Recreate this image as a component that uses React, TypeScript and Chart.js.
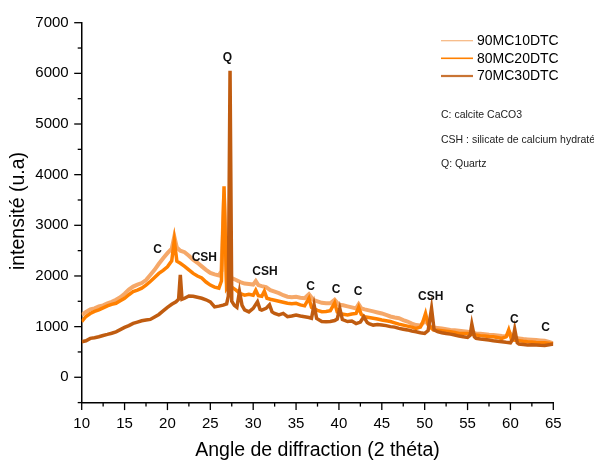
import React, { useEffect, useRef } from "react";
import { Chart, registerables } from "chart.js";

Chart.register(...registerables);

const FONT = "'Liberation Sans', Arial, Helvetica, sans-serif";

// ---------- data ----------
const seriesNames = ["90MC10DTC", "80MC20DTC", "70MC30DTC"];
const seriesColors = ["rgb(245,168,105)", "rgb(255,128,0)", "rgb(192,92,16)"];

const angles90 = [10, 10.5, 11, 11.5, 12, 12.5, 13, 13.5, 14, 14.5, 15, 15.5, 16, 16.5, 17, 17.5, 18, 18.5, 19, 19.5, 20, 20.5, 20.8, 21.1, 21.5, 22, 22.5, 23, 23.5, 24, 24.5, 25, 25.5, 26, 26.3, 26.6, 26.9, 27.2, 27.5, 28, 28.5, 29, 29.5, 30, 30.3, 30.6, 31, 31.5, 32, 32.5, 33, 33.5, 34, 34.5, 35, 35.5, 36, 36.5, 37, 37.5, 38, 38.5, 39, 39.5, 40, 40.5, 41, 41.5, 42, 42.3, 42.6, 43, 43.5, 44, 44.5, 45, 45.5, 46, 46.5, 47, 47.5, 48, 48.5, 49, 49.5, 50.1, 50.5, 51, 51.5, 52, 52.5, 53, 53.5, 54, 54.5, 55, 55.5, 56, 56.5, 57, 57.5, 58, 58.5, 59, 59.5, 59.9, 60.3, 60.7, 61, 61.5, 62, 62.5, 63, 63.5, 64, 64.5, 65];
const intensity90 = [1230, 1290, 1340, 1360, 1400, 1420, 1460, 1490, 1530, 1580, 1650, 1730, 1790, 1830, 1860, 1920, 2020, 2120, 2240, 2350, 2450, 2540, 2780, 2560, 2500, 2470, 2400, 2320, 2260, 2190, 2120, 2060, 2030, 2010, 2100, 3550, 2000, 2100, 1960, 1920, 1880, 1850, 1840, 1830, 1900, 1820, 1800, 1780, 1720, 1690, 1660, 1620, 1590, 1580, 1590, 1570, 1560, 1640, 1530, 1500, 1470, 1460, 1460, 1530, 1430, 1420, 1400, 1380, 1360, 1440, 1360, 1340, 1320, 1300, 1280, 1260, 1230, 1200, 1180, 1165, 1130, 1100, 1060, 1030, 1020, 1120, 1010, 985, 975, 965, 950, 935, 930, 920, 910, 900, 880, 866, 860, 852, 840, 833, 825, 813, 810, 880, 790, 775, 767, 755, 747, 740, 734, 728, 721, 700, 670];

const angles80 = [10, 10.5, 11, 11.5, 12, 12.5, 13, 13.5, 14, 14.5, 15, 15.5, 16, 16.5, 17, 17.5, 18, 18.5, 19, 19.5, 20, 20.5, 20.8, 21.1, 21.5, 22, 22.5, 23, 23.5, 24, 24.5, 25, 25.5, 26, 26.3, 26.6, 26.9, 27.2, 27.5, 28, 28.5, 29, 29.5, 30, 30.3, 30.6, 31, 31.3, 31.6, 32, 32.5, 33, 33.5, 34, 34.5, 35, 35.5, 36, 36.5, 36.8, 37, 37.5, 38, 38.5, 39, 39.5, 39.8, 40, 40.5, 41, 41.5, 42, 42.3, 42.6, 43, 43.5, 44, 44.5, 45, 45.5, 46, 46.5, 47, 47.5, 48, 48.5, 49, 49.5, 49.8, 50.1, 50.4, 50.7, 51, 51.5, 52, 52.5, 53, 53.5, 54, 54.5, 55, 55.5, 56, 56.5, 57, 57.5, 58, 58.5, 59, 59.5, 59.8, 60.1, 60.4, 61, 61.5, 62, 62.5, 63, 63.5, 64, 64.5, 65];
const intensity80 = [1100, 1200, 1260, 1300, 1330, 1370, 1410, 1440, 1460, 1510, 1560, 1630, 1690, 1720, 1760, 1820, 1890, 1970, 2050, 2110, 2180, 2300, 2700, 2290, 2250, 2190, 2120, 2050, 2000, 1960, 1880, 1820, 1780, 1760, 1900, 3770, 1750, 1820, 1780, 1720, 1650, 1620, 1640, 1620, 1720, 1610, 1600, 1700, 1560, 1540, 1520, 1500, 1480, 1460, 1450, 1460, 1430, 1410, 1560, 1380, 1360, 1320, 1295, 1300, 1315, 1470, 1290, 1260, 1245, 1230, 1250, 1260, 1380, 1240, 1195, 1180, 1165, 1150, 1130, 1115, 1100, 1075, 1050, 1030, 1010, 990, 965, 990, 1100, 1260, 1050, 980, 935, 928, 920, 910, 900, 885, 866, 866, 866, 850, 833, 822, 813, 805, 800, 785, 767, 800, 935, 760, 734, 721, 710, 701, 695, 688, 684, 681, 670, 655];

const angles70 = [10, 10.5, 11, 11.5, 12, 12.5, 13, 13.5, 14, 14.5, 15, 15.5, 16, 16.5, 17, 17.5, 18, 18.5, 19, 19.5, 20, 20.5, 21, 21.3, 21.5, 21.7, 22, 22.5, 23, 23.5, 24, 24.5, 25, 25.5, 26, 26.5, 26.9, 27.1, 27.3, 27.5, 27.8, 28.1, 28.4, 28.7, 29, 29.5, 30, 30.5, 30.8, 31, 31.5, 31.9, 32.2, 32.5, 33, 33.5, 34, 34.5, 35, 35.5, 36, 36.5, 36.8, 37.1, 37.4, 38, 38.5, 39, 39.5, 39.8, 40.1, 40.4, 41, 41.5, 42, 42.5, 42.9, 43.3, 43.5, 44, 44.5, 45, 45.5, 46, 46.5, 47, 47.5, 48, 48.5, 49, 49.5, 50, 50.4, 50.8, 51.1, 51.5, 52, 52.5, 53, 53.5, 54, 54.5, 55, 55.3, 55.5, 55.8, 56, 56.5, 57, 57.5, 58, 58.5, 59, 59.5, 60, 60.3, 60.5, 60.8, 61, 61.5, 62, 62.5, 63, 63.5, 64, 64.5, 65];
const intensity70 = [700, 720, 768, 780, 800, 825, 846, 870, 898, 940, 984, 1020, 1063, 1090, 1115, 1130, 1142, 1190, 1240, 1310, 1380, 1440, 1490, 1540, 2020, 1540, 1560, 1605, 1600, 1580, 1560, 1530, 1490, 1390, 1405, 1425, 1450, 1600, 6050, 1500, 1420, 1380, 1690, 1420, 1330, 1290, 1360, 1490, 1340, 1325, 1360, 1430, 1290, 1260, 1230, 1260, 1195, 1210, 1230, 1210, 1195, 1180, 1165, 1430, 1160, 1100, 1095, 1100, 1120, 1150, 1360, 1140, 1100, 1110, 1060, 1090, 1195, 1080, 1060, 1030, 1040, 1030, 1020, 1000, 990, 965, 950, 935, 915, 900, 880, 866, 920, 1360, 935, 900, 880, 865, 852, 835, 813, 800, 787, 830, 1050, 800, 767, 755, 747, 735, 721, 710, 701, 690, 681, 760, 950, 680, 655, 645, 635, 640, 635, 630, 628, 640, 655];

const xMajorTicks = [10, 15, 20, 25, 30, 35, 40, 45, 50, 55, 60, 65];
const xMinorTicks = [12.5, 17.5, 22.5, 27.5, 32.5, 37.5, 42.5, 47.5, 52.5, 57.5, 62.5];
const yMajorTicks = [0, 1000, 2000, 3000, 4000, 5000, 6000, 7000];
const yMinorTicks = [-500, 500, 1500, 2500, 3500, 4500, 5500, 6500];

const peakLabels = ["Q", "C", "CSH", "CSH", "C", "C", "C", "CSH", "C", "C", "C"];
const peakAngles = [27.0, 18.86, 24.3, 31.38, 36.7, 39.66, 42.22, 50.7, 55.28, 60.45, 64.1];
const peakIntensities = [6317, 2527, 2361, 2085, 1788, 1737, 1697, 1591, 1342, 1145, 979];

const noteLines = ["C: calcite CaCO3", "CSH : silicate de calcium hydraté", "Q: Quartz"];

const xTitle = "Angle de diffraction (2 théta)";
const yTitle = "intensité (u.a)";

function toPoints(xs: number[], ys: number[]) {
  return xs.map((x, i) => ({ x, y: ys[i] }));
}

const decorPlugin = {
  id: "decor",
  afterDraw(chart: any) {
    const ctx = chart.ctx as CanvasRenderingContext2D;
    const xs = chart.scales.x;
    const ys = chart.scales.y;
    const area = chart.chartArea;
    ctx.save();
    ctx.strokeStyle = "#000";
    ctx.lineWidth = 1.3;
    const drawXT = (v: number, len: number) => {
      const px = xs.getPixelForValue(v);
      ctx.beginPath();
      ctx.moveTo(px, area.bottom);
      ctx.lineTo(px, area.bottom + len);
      ctx.stroke();
    };
    const drawYT = (v: number, len: number) => {
      const py = ys.getPixelForValue(v);
      ctx.beginPath();
      ctx.moveTo(area.left, py);
      ctx.lineTo(area.left - len, py);
      ctx.stroke();
    };
    xMajorTicks.forEach((v) => drawXT(v, 7.5));
    xMinorTicks.forEach((v) => drawXT(v, 4));
    yMajorTicks.forEach((v) => drawYT(v, 7.5));
    yMinorTicks.forEach((v) => drawYT(v, 4));

    // axis titles
    ctx.fillStyle = "#000";
    ctx.font = `19.5px ${FONT}`;
    ctx.textAlign = "center";
    ctx.textBaseline = "middle";
    ctx.fillText(xTitle, (area.left + area.right) / 2, 451);
    ctx.save();
    ctx.translate(19, 211);
    ctx.rotate(-Math.PI / 2);
    ctx.fillText(yTitle, 0, 0);
    ctx.restore();

    // legend
    const legendX = 441;
    const legendRows = [40.7, 58.3, 76];
    const legendWidths = [1.2, 1.6, 2.2];
    ctx.font = `14px ${FONT}`;
    ctx.textAlign = "left";
    ctx.textBaseline = "middle";
    chart.data.datasets.forEach((ds: any, i: number) => {
      const y = legendRows[i];
      ctx.strokeStyle = ds.borderColor;
      ctx.lineWidth = legendWidths[i];
      ctx.globalAlpha = i === 1 ? 1 : 0.85;
      ctx.beginPath();
      ctx.moveTo(legendX, y);
      ctx.lineTo(legendX + 32, y);
      ctx.stroke();
      ctx.globalAlpha = 1;
      ctx.fillStyle = "#000";
      ctx.fillText(ds.label, legendX + 36, y + 0.5);
    });

    // notes
    ctx.font = `10.5px ${FONT}`;
    ctx.fillStyle = "#222";
    const noteRows = [115, 140, 164];
    noteLines.forEach((t, i) => ctx.fillText(t, 441, noteRows[i]));

    // peak labels
    ctx.font = `bold 12px ${FONT}`;
    ctx.fillStyle = "#111";
    ctx.textAlign = "center";
    peakLabels.forEach((t, i) => {
      ctx.fillText(t, xs.getPixelForValue(peakAngles[i]), ys.getPixelForValue(peakIntensities[i]));
    });
    ctx.restore();
  },
};

export default function App() {
  const canvasRef = useRef<HTMLCanvasElement | null>(null);

  useEffect(() => {
    const canvas = canvasRef.current;
    if (!canvas) return;
    const datasets = [
      { label: seriesNames[0], data: toPoints(angles90, intensity90), color: seriesColors[0], order: 3, width: 4 },
      { label: seriesNames[1], data: toPoints(angles80, intensity80), color: seriesColors[1], order: 2, width: 3.5 },
      { label: seriesNames[2], data: toPoints(angles70, intensity70), color: seriesColors[2], order: 1, width: 3.5 },
    ].map((d) => ({
      label: d.label,
      data: d.data,
      borderColor: d.color,
      backgroundColor: d.color,
      borderWidth: d.width,
      pointRadius: 0,
      tension: 0,
      fill: false,
      order: d.order,
    }));

    const chart = new Chart(canvas, {
      type: "line",
      data: { datasets },
      options: {
        animation: false,
        responsive: false,
        maintainAspectRatio: false,
        layout: { padding: { left: 0, right: 40.7, top: 22.7, bottom: 0 } },
        plugins: {
          legend: { display: false },
          tooltip: { enabled: false },
        },
        scales: {
          x: {
            type: "linear",
            min: 10,
            max: 65,
            afterBuildTicks: (s: any) => {
              s.ticks = xMajorTicks.map((v) => ({ value: v }));
            },
            afterFit: (s: any) => {
              s.height = 59.4;
            },
            grid: { display: false },
            border: { display: true, color: "#000", width: 1.5 },
            ticks: {
              autoSkip: false,
              maxRotation: 0,
              padding: 4,
              color: "#000",
              font: { family: FONT, size: 15 },
              callback: (v: any) => String(v),
            },
          },
          y: {
            type: "linear",
            min: -500,
            max: 7000,
            afterBuildTicks: (s: any) => {
              s.ticks = yMajorTicks.map((v) => ({ value: v }));
            },
            afterFit: (s: any) => {
              s.width = 81.7;
            },
            grid: { display: false },
            border: { display: true, color: "#000", width: 1.5 },
            ticks: {
              autoSkip: false,
              padding: 5,
              color: "#000",
              font: { family: FONT, size: 15 },
              callback: (v: any) => String(v),
            },
          },
        },
      },
      plugins: [decorPlugin],
    });
    return () => chart.destroy();
  }, []);

  return (
    <div style={{ position: "fixed", left: 0, top: 0, width: 594, height: 462, background: "#fff" }}>
      <canvas ref={canvasRef} width={594} height={462} style={{ display: "block" }} />
    </div>
  );
}
